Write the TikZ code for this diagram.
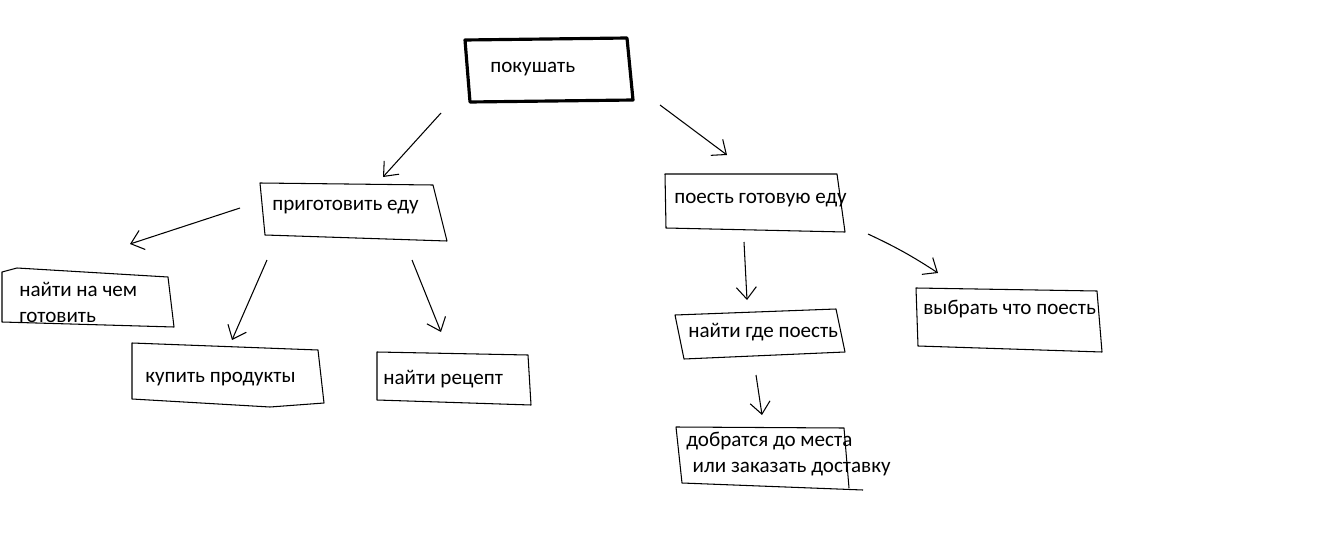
\documentclass[tikz,border=0pt]{standalone}
\usepackage{fontspec}
\setmainfont{Carlito}
\usetikzlibrary{arrows.meta}
\tikzset{
  lbl/.style={anchor=base west,inner sep=0pt,font=\fontsize{12}{14.5}\selectfont,align=left},
  sketch/.style={line width=0.6pt,line join=round},
  boldsketch/.style={line width=1.8pt,line join=round},
  arr/.style={line width=0.6pt,-{Straight Barb[length=2.4mm,width=4mm]}},
}

\begin{document}
\begin{tikzpicture}[x=0.02cm,y=-0.02cm]
\useasboundingbox (0,0) rectangle (1335,537);

\node[lbl] (eat) at (490,73) {покушать};
\node[lbl] (cook) at (272,210) {приготовить еду};
\node[lbl] (stove) at (19,322) {найти на чем\\готовить};
\node[lbl] (buy) at (145,382) {купить продукты};
\node[lbl] (recipe) at (383,384) {найти рецепт};
\node[lbl] (ready) at (674,203) {поесть готовую еду};
\node[lbl] (where) at (688,337) {найти где поесть};
\node[lbl] (choose) at (923,314) {выбрать что поесть};
\node[lbl] (getthere) at (686,472) {добратся до места\\\hspace*{0.3em}или заказать доставку};

\draw[boldsketch] (465,40) -- (627,38) -- (633,100) -- (470,102) -- cycle;
\draw[sketch] (260,183) -- (433,185) -- (447,241) -- (265,235) -- cycle;
\draw[sketch] (2,272) -- (17,268) -- (168,277) -- (174,327) -- (2,322) -- cycle;
\draw[sketch] (132,343) -- (318,350) -- (324,403) -- (270,407) -- (132,399) -- cycle;
\draw[sketch] (377,352) -- (528,355) -- (531,405) -- (377,400) -- cycle;
\draw[sketch] (665,174) -- (837,174) -- (845,232) -- (666,228) -- cycle;
\draw[sketch] (675,315) -- (836,309) -- (845,352) -- (684,359) -- cycle;
\draw[sketch] (916,288) -- (1097,291) -- (1102,352) -- (918,346) -- cycle;
\draw[sketch] (849,488) -- (844,428) -- (676,427) -- (682,483) -- (863,490);

\coordinate (eat-out1) at (441,113);
\coordinate (eat-out2) at (660,105);
\coordinate (cook-in) at (383,177);
\coordinate (ready-in) at (727,155);
\coordinate (cook-out1) at (240,208);
\coordinate (cook-out2) at (267,260);
\coordinate (cook-out3) at (412,260);
\coordinate (stove-in) at (130,244);
\coordinate (buy-in) at (232,340);
\coordinate (recipe-in) at (441,332);
\coordinate (ready-out1) at (744,242);
\coordinate (ready-out2) at (868,234);
\coordinate (where-in) at (747,300);
\coordinate (choose-in) at (938,273);
\coordinate (where-out) at (756,375);
\coordinate (getthere-in) at (762,415);

\draw[arr] (eat-out1) -- (cook-in);
\draw[arr] (eat-out2) -- (ready-in);
\draw[arr] (cook-out1) -- (stove-in);
\draw[arr] (cook-out2) -- (buy-in);
\draw[arr] (cook-out3) -- (recipe-in);
\draw[arr] (ready-out1) -- (where-in);
\draw[arr] (ready-out2) to[bend left=4] (choose-in);
\draw[arr] (where-out) -- (getthere-in);
\end{tikzpicture}
\end{document}
